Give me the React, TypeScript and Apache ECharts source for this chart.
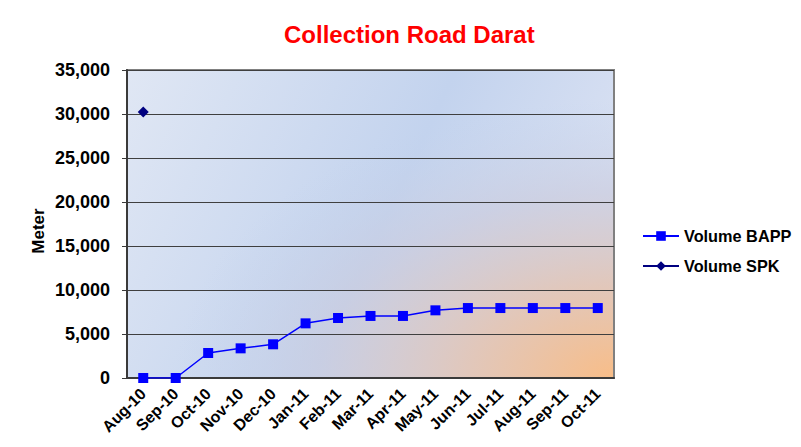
import React, { useEffect, useRef } from "react";
import * as echarts from "echarts";

const categories = ["Aug-10", "Sep-10", "Oct-10", "Nov-10", "Dec-10", "Jan-11", "Feb-11", "Mar-11", "Apr-11", "May-11", "Jun-11", "Jul-11", "Aug-11", "Sep-11", "Oct-11"];
const volumeBAPP = [0, 0, 2840, 3370, 3830, 6210, 6820, 7050, 7050, 7690, 7950, 7950, 7950, 7950, 7950];
const volumeSPK: (number | null)[] = [30230, null, null, null, null, null, null, null, null, null, null, null, null, null, null];
const yTicks = { min: 0, max: 35000, interval: 5000 };

const FONT = "Arial, 'Liberation Sans', sans-serif";

export default function App() {
  const ref = useRef<HTMLDivElement>(null);
  useEffect(() => {
    if (!ref.current) return;
    const chart = echarts.init(ref.current, null, { renderer: "svg" });
    const G = { left: 127, top: 70, width: 487, height: 308 };
    const sy = 0.65;
    const H = G.height / sy;
    chart.setOption({
      animation: false,
      title: {
        text: "Collection Road Darat",
        left: 284,
        top: 22,
        padding: 0,
        textStyle: { color: "#ff0000", fontWeight: "bold", fontSize: 24, fontFamily: FONT },
      },
      graphic: [
        {
          type: "rect",
          z: 50,
          silent: true,
          shape: { x: 4, y: 5, width: 797, height: 1.6 },
          style: { fill: "#6b6b6b" },
        },
        {
          type: "rect",
          z: 50,
          silent: true,
          shape: { x: 4, y: 5, width: 1.6, height: 442 },
          style: { fill: "#6b6b6b" },
        },
        {
          type: "rect",
          z: -10,
          silent: true,
          shape: { x: G.left, y: G.top, width: G.width, height: G.height },
          style: {
            fill: new echarts.graphic.LinearGradient(0, 0, 1, 0.3, [
              { offset: 0, color: "#e0e7f4" },
              { offset: 0.62, color: "#c3d3ee" },
              { offset: 1, color: "#d8e0f2" },
            ]),
          },
        },
        {
          type: "rect",
          z: -9,
          silent: true,
          shape: { x: G.left, y: G.top + G.height - H, width: G.width, height: H },
          scaleY: sy,
          originX: G.left + G.width,
          originY: G.top + G.height,
          style: {
            fill: new echarts.graphic.RadialGradient(1, 1, 1.0, [
              { offset: 0, color: "rgba(248,189,136,1)" },
              { offset: 0.3, color: "rgba(226,198,184,0.95)" },
              { offset: 0.6, color: "rgba(203,204,222,0.7)" },
              { offset: 0.9, color: "rgba(195,210,236,0)" },
              { offset: 1, color: "rgba(195,210,236,0)" },
            ]),
          },
        },
        {
          type: "text",
          silent: true,
          x: 38,
          y: 231,
          rotation: Math.PI / 2,
          style: {
            text: "Meter",
            fill: "#000",
            font: `bold 17px ${FONT}`,
            textAlign: "center",
            textVerticalAlign: "middle",
          },
        },
      ],
      legend: {
        left: 642,
        top: 228,
        padding: 0,
        orient: "vertical",
        itemWidth: 36,
        itemHeight: 12,
        itemGap: 14,
        textStyle: { fontWeight: "bold", fontSize: 16.3, fontFamily: FONT, color: "#000" },
        data: ["Volume BAPP", "Volume SPK"],
      },
      grid: {
        left: G.left,
        top: G.top,
        width: G.width,
        height: G.height,
        show: true,
        backgroundColor: "transparent",
        borderColor: "#808080",
        borderWidth: 2,
      },
      xAxis: {
        type: "category",
        data: categories,
        boundaryGap: true,
        axisLine: { lineStyle: { color: "#3a3a3a", width: 2 } },
        axisTick: { show: false },
        axisLabel: {
          rotate: 45,
          interval: 0,
          margin: 13,
          color: "#000",
          fontWeight: "bold",
          fontSize: 16,
          fontFamily: FONT,
        },
        splitLine: { show: false },
      },
      yAxis: {
        type: "value",
        min: yTicks.min,
        max: yTicks.max,
        interval: yTicks.interval,
        axisLine: { show: true, lineStyle: { color: "#3a3a3a", width: 2 } },
        axisTick: { show: true, length: 5, lineStyle: { color: "#3a3a3a" } },
        axisLabel: {
          margin: 17,
          color: "#000",
          fontWeight: "bold",
          fontSize: 18,
          fontFamily: FONT,
          formatter: (v: number) => v.toLocaleString("en-US"),
        },
        splitLine: { show: true, lineStyle: { color: "#3f3f3f", width: 1.2 } },
      },
      series: [
        {
          name: "Volume BAPP",
          type: "line",
          data: volumeBAPP,
          symbol: "rect",
          symbolSize: 10,
          itemStyle: { color: "#0000ff" },
          lineStyle: { color: "#0000ff", width: 1.5 },
        },
        {
          name: "Volume SPK",
          type: "line",
          data: volumeSPK,
          symbol: "diamond",
          symbolSize: 11,
          itemStyle: { color: "#000080" },
          lineStyle: { color: "#000080", width: 1.5 },
        },
      ],
    });
    return () => chart.dispose();
  }, []);
  return <div ref={ref} style={{ width: 801, height: 447, margin: -8 }} />;
}
